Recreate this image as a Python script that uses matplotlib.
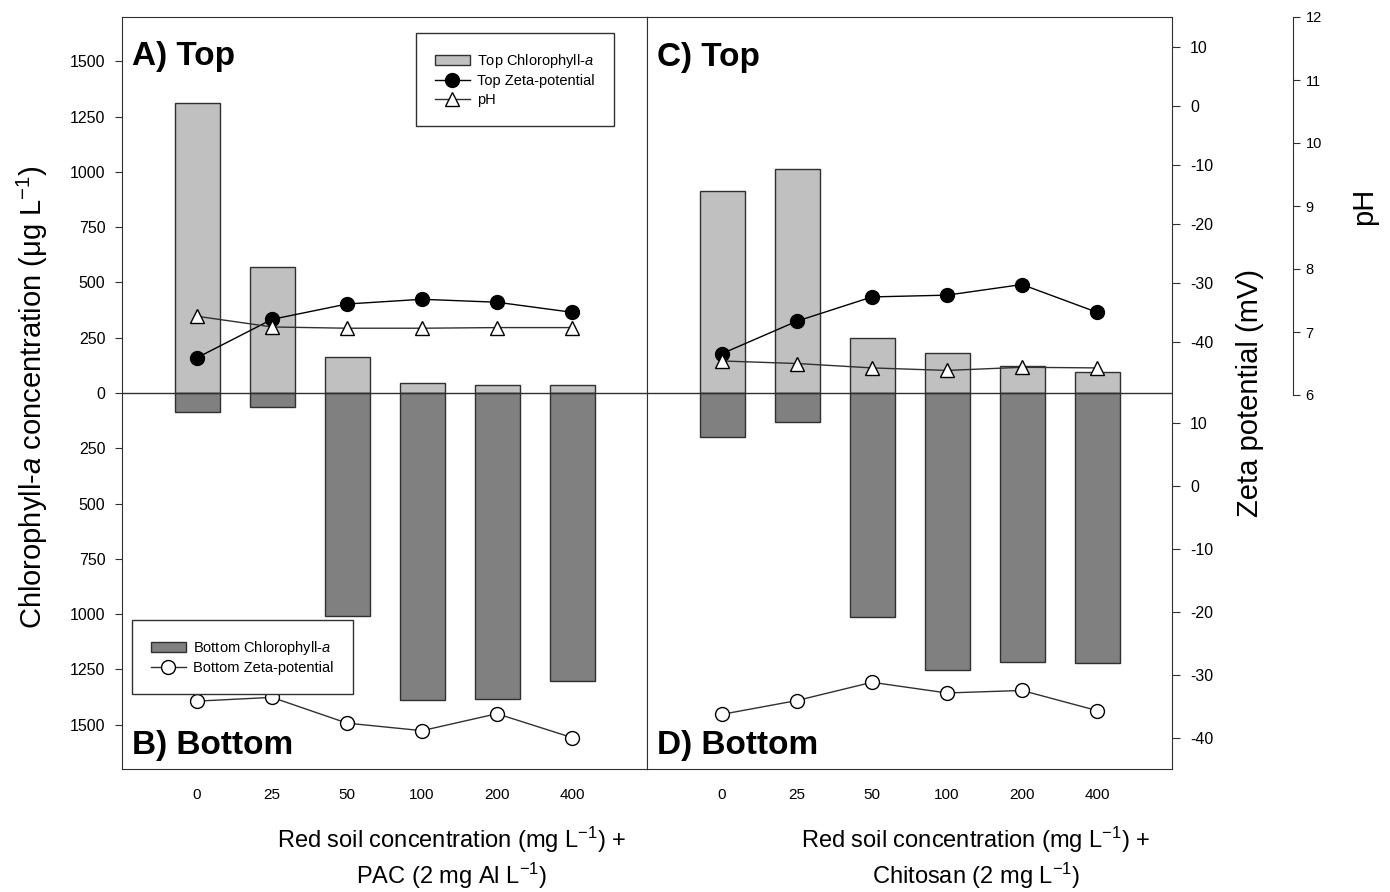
import matplotlib
matplotlib.use('Agg')
import matplotlib.pyplot as plt
from matplotlib.patches import Patch
from matplotlib.lines import Line2D

plt.rcParams['font.family'] = ['Liberation Sans', 'DejaVu Sans']
plt.rcParams['mathtext.fontset'] = 'custom'
plt.rcParams['mathtext.rm'] = 'Liberation Sans'
plt.rcParams['mathtext.it'] = 'Liberation Sans:italic'
plt.rcParams['mathtext.bf'] = 'Liberation Sans:bold'
plt.rcParams['axes.unicode_minus'] = False

# red soil concentrations (mg/L)
conc = ['0', '25', '50', '100', '200', '400']

# PAC panel (A/B)
pac_top_chl = [1310, 570, 165, 45, 38, 34]
pac_bot_chl = [85, 62, 1010, 1390, 1382, 1300]
pac_top_zeta = [-42.7, -36.2, -33.6, -32.8, -33.3, -35.0]
pac_bot_zeta = [-34.2, -33.6, -37.7, -38.9, -36.2, -40.0]
pac_ph = [7.25, 7.08, 7.06, 7.06, 7.07, 7.07]

# Chitosan panel (C/D)
chi_top_chl = [915, 1015, 250, 180, 121, 94]
chi_bot_chl = [197, 129, 1013, 1252, 1216, 1222]
chi_top_zeta = [-42.0, -36.5, -32.4, -32.1, -30.3, -35.0]
chi_bot_zeta = [-36.3, -34.1, -31.2, -32.9, -32.5, -35.7]
chi_ph = [6.54, 6.50, 6.43, 6.39, 6.44, 6.43]

W, H = 1390, 892
LIGHT = '#c0c0c0'
DARK = '#808080'
EDGE = '#303030'

fig = plt.figure(figsize=(W / 100, H / 100), dpi=100)


def rect(x0, x1, y0, y1):
    return [x0 / W, 1 - y1 / H, (x1 - x0) / W, (y1 - y0) / H]


def overlay(r):
    a = fig.add_axes(r)
    a.patch.set_visible(False)
    for s in a.spines.values():
        s.set_visible(False)
    a.set_xlim(-1, 6)
    a.set_xticks([])
    return a


def draw_panel(x0, x1, top_chl, bot_chl, top_zeta, bot_zeta, ph, first):
    xs = range(len(conc))
    ax = fig.add_axes(rect(x0, x1, 17, 769))
    ax.bar(xs, top_chl, 0.6, color=LIGHT, edgecolor=EDGE, linewidth=1, zorder=2)
    ax.bar(xs, [-v for v in bot_chl], 0.6, color=DARK, edgecolor=EDGE, linewidth=1, zorder=2)
    ax.axhline(0, color=EDGE, lw=1, zorder=3)
    ax.set_xlim(-1, 6)
    ax.set_ylim(-1700, 1700)
    ax.set_xticks(list(xs), conc)
    ax.tick_params(axis='x', length=0, pad=14, labelsize=11)
    for s in ax.spines.values():
        s.set_color(EDGE)
    if first:
        ticks = list(range(-1500, 1501, 250))
        ax.set_yticks(ticks, [str(abs(t)) for t in ticks])
        ax.tick_params(axis='y', direction='out', length=5, pad=7, labelsize=11.5, color=EDGE)
    else:
        ax.tick_params(axis='y', left=False, labelleft=False)

    azt = overlay(rect(x0, x1, 17, 392))
    azt.set_ylim(-48.5, 15)
    azt.plot(xs, top_zeta, '-', color='black', lw=1, marker='o', ms=10,
             mfc='black', mec='black', clip_on=False)

    azb = overlay(rect(x0, x1, 392, 769))
    azb.set_ylim(-45, 15)
    azb.plot(xs, bot_zeta, '-', color=EDGE, lw=1, marker='o', ms=10,
             mfc='white', mec='black', clip_on=False)

    aph = overlay(rect(x0, x1, 17, 395))
    aph.set_ylim(6, 12)
    aph.plot(xs, ph, '-', color=EDGE, lw=1, marker='^', ms=10,
             mfc='white', mec='black', clip_on=False)

    if first:
        for a in (azt, azb, aph):
            a.set_yticks([])
    else:
        for a in (azt, azb):
            a.yaxis.tick_right()
            a.set_yticks(range(-40, 11, 10))
            a.tick_params(axis='y', direction='out', length=6, pad=7, labelsize=11.5, color=EDGE)
        aph.yaxis.tick_right()
        aph.spines['right'].set_visible(True)
        aph.spines['right'].set_color(EDGE)
        aph.spines['right'].set_position(('axes', (1293 - x0) / (x1 - x0)))
        aph.set_yticks(range(6, 13))
        aph.tick_params(axis='y', direction='out', length=5, pad=4, labelsize=10.5, color=EDGE)


draw_panel(122, 647, pac_top_chl, pac_bot_chl, pac_top_zeta, pac_bot_zeta, pac_ph, True)
draw_panel(647, 1172, chi_top_chl, chi_bot_chl, chi_top_zeta, chi_bot_zeta, chi_ph, False)

# panel tags
for txt, x, y in [('A) Top', 132, 65), ('B) Bottom', 132, 754),
                  ('C) Top', 657, 66), ('D) Bottom', 657, 754)]:
    fig.text(x / W, 1 - y / H, txt, fontsize=24, fontweight='bold', va='baseline', ha='left')

# axis titles
fig.text(42 / W, 1 - 397 / H, 'Chlorophyll-$a$ concentration (μg L$^{-1}$)',
         rotation=90, fontsize=21, ha='center', va='baseline', rotation_mode='anchor')
fig.text(1258 / W, 1 - 393 / H, 'Zeta potential (mV)',
         rotation=90, fontsize=21, ha='center', va='baseline', rotation_mode='anchor')
fig.text(1372 / W, 1 - 206 / H, 'pH',
         rotation=90, fontsize=21, ha='center', va='baseline', rotation_mode='anchor')

fig.text(452 / W, 1 - 848 / H, 'Red soil concentration (mg L$^{-1}$) +',
         fontsize=17, ha='center', va='baseline')
fig.text(452 / W, 1 - 884 / H, 'PAC (2 mg Al L$^{-1}$)',
         fontsize=17, ha='center', va='baseline')
fig.text(976 / W, 1 - 848 / H, 'Red soil concentration (mg L$^{-1}$) +',
         fontsize=17, ha='center', va='baseline')
fig.text(976 / W, 1 - 884 / H, 'Chitosan (2 mg L$^{-1}$)',
         fontsize=17, ha='center', va='baseline')

# legends
top_handles = [
    Patch(facecolor=LIGHT, edgecolor=EDGE),
    Line2D([], [], color='black', lw=1, marker='o', ms=10, mfc='black'),
    Line2D([], [], color=EDGE, lw=1, marker='^', ms=10, mfc='white', mec='black'),
]
leg1 = fig.legend(top_handles, ['Top Chlorophyll-$a$', 'Top Zeta-potential', 'pH'],
                  loc='upper left', bbox_to_anchor=(416 / W, 1 - 33 / H), borderaxespad=0,
                  fontsize=10.5, fancybox=False, framealpha=1, edgecolor=EDGE,
                  borderpad=1.3, handlelength=2.4, labelspacing=0.3, handletextpad=0.5)
leg1.get_frame().set_linewidth(1)

bot_handles = [
    Patch(facecolor=DARK, edgecolor=EDGE),
    Line2D([], [], color=EDGE, lw=1, marker='o', ms=10, mfc='white', mec='black'),
]
leg2 = fig.legend(bot_handles, ['Bottom Chlorophyll-$a$', 'Bottom Zeta-potential'],
                  loc='upper left', bbox_to_anchor=(132 / W, 1 - 620 / H), borderaxespad=0,
                  fontsize=10.5, fancybox=False, framealpha=1, edgecolor=EDGE,
                  borderpad=1.3, handlelength=2.4, labelspacing=0.3, handletextpad=0.5)
leg2.get_frame().set_linewidth(1)

fig.savefig('out.png', dpi=100)
